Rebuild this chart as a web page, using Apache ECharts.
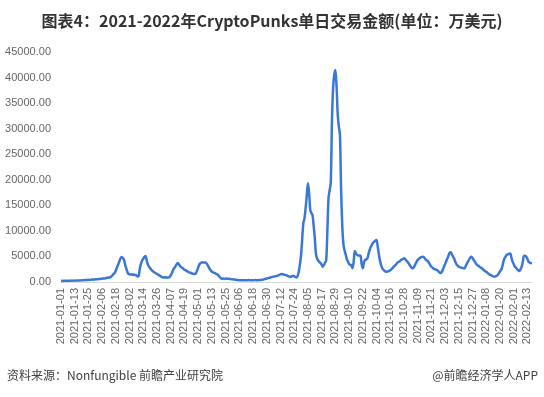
<!DOCTYPE html>
<html lang="zh-CN">
<head>
<meta charset="UTF-8">
<title>CryptoPunks单日交易金额</title>
<script src="https://cdn.jsdelivr.net/npm/echarts@6/dist/echarts.min.js"></script>
<style>
    html, body {
        margin: 0;
        padding: 0;
        background: #ffffff;
    }
    #chart {
        width: 544px;
        height: 397px;
    }
</style>
</head>
<body>
<div id="chart"></div>
<script>
// 起始日期，逐日一个点
const startDate = '2021-01-01';

// 单日交易金额(万美元)，2021-01-01 ~ 2022-02-17
const amount2021Jan = [200, 230, 210, 250, 240, 220, 260, 250, 230, 270, 260, 280, 250, 290, 300, 280, 310, 300, 330, 320, 350, 380, 360, 400, 420, 410, 450, 480, 460, 500, 520];
const amount2021Feb = [550, 530, 580, 600, 620, 650, 700, 680, 750, 800, 850, 900, 900, 1100, 1300, 1600, 1800, 2300, 2900, 3400, 4000, 4600, 4900, 4700, 4400, 3500, 2700, 2000];
const amount2021Mar = [1600, 1500, 1450, 1500, 1400, 1450, 1350, 1300, 1100, 1200, 2700, 3600, 4200, 4600, 4900, 5100, 4200, 3400, 3000, 2700, 2400, 2200, 2000, 1850, 1700, 1550, 1450, 1300, 1150, 1000, 900];
const amount2021Apr = [900, 950, 850, 900, 880, 950, 1300, 1760, 2300, 2700, 3000, 3400, 3700, 3500, 3200, 2900, 2800, 2600, 2400, 2300, 2180, 2000, 1900, 1800, 1760, 1650, 1600, 1560, 1700, 2200];
const amount2021May = [2800, 3400, 3700, 3800, 3850, 3800, 3800, 3750, 3400, 3000, 2600, 2300, 2000, 1900, 1800, 1700, 1550, 1450, 1200, 950, 700, 650, 700, 600, 700, 650, 620, 650, 600, 550, 520];
const amount2021Jun = [500, 480, 420, 400, 380, 360, 350, 370, 340, 360, 350, 330, 350, 370, 340, 350, 360, 340, 350, 380, 360, 350, 370, 380, 400, 450, 500, 560, 620, 680];
const amount2021Jul = [750, 800, 870, 950, 1000, 1050, 1100, 1150, 1200, 1300, 1400, 1500, 1560, 1500, 1450, 1400, 1300, 1250, 1100, 1050, 1000, 1150, 1230, 1100, 1000, 900, 1200, 2000, 3500, 5300, 8500];
const amount2021Aug = [11500, 12500, 14500, 17000, 19300, 17500, 14100, 13500, 13100, 11000, 8600, 5500, 4600, 4200, 3900, 3700, 3400, 3000, 3300, 3800, 4300, 10000, 16400, 18000, 19500, 31400, 37900, 40500, 41500, 38500, 33000];
const amount2021Sep = [30500, 28800, 18300, 11200, 7500, 6200, 5400, 4500, 4000, 3500, 3400, 3200, 2700, 4000, 6070, 5600, 5300, 5200, 5200, 5150, 3500, 2680, 3800, 4300, 4400, 4640, 5500, 6300, 6900, 7300];
const amount2021Oct = [7700, 7900, 8100, 8220, 7000, 5500, 4200, 3300, 2700, 2400, 2200, 2020, 2000, 2100, 2150, 2300, 2500, 2700, 3000, 3200, 3400, 3700, 3900, 4000, 4200, 4400, 4500, 4640, 4500, 4200, 3970];
const amount2021Nov = [3700, 3300, 3000, 2700, 2680, 3000, 3500, 3900, 4300, 4500, 4700, 4850, 4950, 4900, 4700, 4400, 4200, 4100, 3700, 3300, 3000, 2800, 2600, 2500, 2400, 2350, 2100, 1900, 1750, 1900];
const amount2021Dec = [2400, 3000, 3500, 4100, 4640, 5200, 5700, 5800, 5400, 4950, 4500, 3900, 3460, 3200, 3000, 2900, 2800, 2750, 2700, 2680, 3100, 3600, 3970, 4400, 4800, 4950, 4700, 4300, 4000, 3600, 3300];
const amount2022Jan = [3200, 3000, 2850, 2700, 2500, 2300, 2100, 2000, 1800, 1600, 1450, 1370, 1200, 1100, 1040, 1100, 1200, 1370, 1700, 2100, 2350, 3000, 4000, 4640, 5000, 5300, 5420, 5550, 5600, 4800, 3970];
const amount2022Feb = [3500, 3000, 2800, 2500, 2300, 2150, 2500, 3000, 4000, 5150, 5100, 4950, 4500, 3970, 3800, 3700, 3640];

// Y轴刻度
const yMin = 0;
const yMax = 45000;
const yStep = 5000;

// 标题和来源
const titleText = '图表4：2021-2022年CryptoPunks单日交易金额(单位：万美元)';
const sourceText = '资料来源：Nonfungible 前瞻产业研究院';
const appText = '@前瞻经济学人APP';

// 入口
window.onload = function () {
    let values = [].concat(
        amount2021Jan, amount2021Feb, amount2021Mar, amount2021Apr,
        amount2021May, amount2021Jun, amount2021Jul, amount2021Aug,
        amount2021Sep, amount2021Oct, amount2021Nov, amount2021Dec,
        amount2022Jan, amount2022Feb
    );
    let dates = buildDates(startDate, values.length);
    drawChart(dates, values);
};

// 生成日期类目
function buildDates(start, count) {
    let list = [];
    let d = new Date(start + 'T00:00:00Z');
    for (let i = 0; i < count; i++) {
        let y = d.getUTCFullYear();
        let m = String(d.getUTCMonth() + 1).padStart(2, '0');
        let day = String(d.getUTCDate()).padStart(2, '0');
        list.push(`${y}-${m}-${day}`);
        d.setUTCDate(d.getUTCDate() + 1);
    }
    return list;
}

// 画图
function drawChart(dates, values) {
    let chart = echarts.init(document.getElementById('chart'), null, {renderer: 'canvas'});

    let option = {
        backgroundColor: '#ffffff',
        animation: false,
        title: [
            {
                text: titleText,
                left: 'center',
                top: 8,
                textStyle: {
                    fontFamily: 'Noto Sans CJK SC',
                    fontSize: 16,
                    fontWeight: 'bold',
                    color: '#333333'
                }
            }
        ],
        graphic: [
            {
                type: 'text',
                left: 7,
                top: 369,
                style: {
                    text: sourceText,
                    fontFamily: 'Noto Sans CJK SC',
                    fontSize: 12,
                    fill: '#404040'
                }
            },
            {
                type: 'text',
                right: 6,
                top: 369,
                style: {
                    text: appText,
                    fontFamily: 'Noto Sans CJK SC',
                    fontSize: 12,
                    fill: '#404040'
                }
            }
        ],
        grid: {
            left: 61,
            right: 12,
            top: 52,
            bottom: 115
        },
        xAxis: {
            type: 'category',
            boundaryGap: false,
            data: dates,
            axisLine: {
                lineStyle: {
                    color: '#d9d9d9'
                }
            },
            axisTick: {
                show: false
            },
            axisLabel: {
                interval: 11,
                rotate: 90,
                margin: 6,
                fontFamily: 'Liberation Sans',
                fontSize: 11,
                color: '#666666'
            }
        },
        yAxis: {
            type: 'value',
            min: yMin,
            max: yMax,
            interval: yStep,
            axisLine: {
                show: false
            },
            axisTick: {
                show: false
            },
            splitLine: {
                show: false
            },
            axisLabel: {
                margin: 10,
                fontFamily: 'Liberation Sans',
                fontSize: 11,
                color: '#666666',
                formatter: v => v.toFixed(2)
            }
        },
        series: [
            {
                name: '单日交易金额',
                type: 'line',
                data: values,
                smooth: 0.3,
                showSymbol: false,
                lineStyle: {
                    color: '#3a77d6',
                    width: 2.5
                }
            }
        ]
    };

    chart.setOption(option);
}
</script>
</body>
</html>
